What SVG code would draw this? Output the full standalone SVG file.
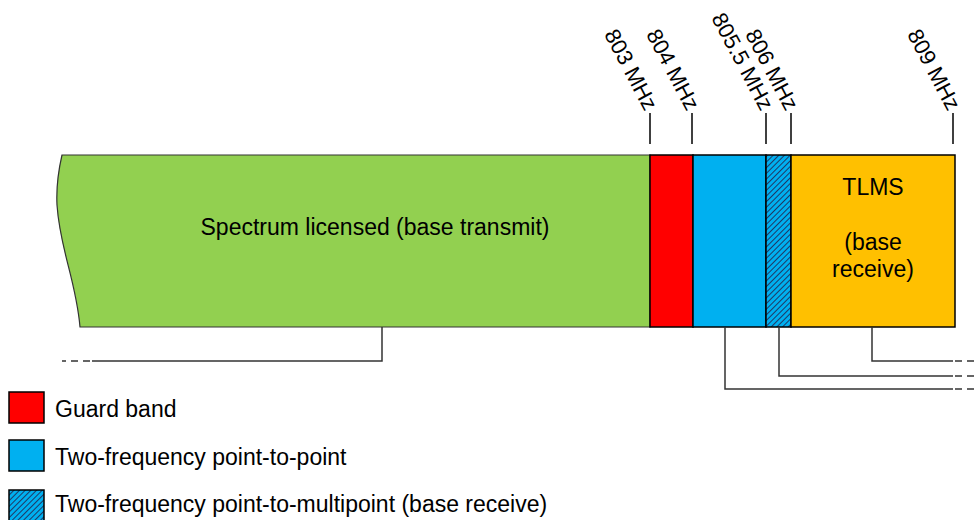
<svg xmlns="http://www.w3.org/2000/svg" width="978" height="520" viewBox="0 0 978 520">
  <style>
    text { font-family: "Liberation Sans", Arial, sans-serif; fill: #000; }
    .lbl { font-size: 23px; }
    .freq { font-size: 22px; }
    .band { stroke: #000; stroke-width: 1.5; }
    .tick { stroke: #000; stroke-width: 1.5; fill: none; }
    .lead { stroke: #333; stroke-width: 1.5; fill: none; }
    .dash { stroke: #333; stroke-width: 1.5; fill: none; stroke-dasharray: 7 5; }
  </style>
  <defs>
    <pattern id="hatch" patternUnits="userSpaceOnUse" width="4" height="4" patternTransform="rotate(45)">
      <rect width="4" height="4" fill="#00B0F0"/>
      <line x1="0" y1="0" x2="0" y2="4" stroke="#1F3864" stroke-width="2"/>
    </pattern>
  </defs>

  <!-- spectrum bands -->
  <g id="band-licensed">
    <path d="M62,155 H650 V327 H80 C76,280 60,250 57,205 C56,185 59,168 62,155 Z" fill="#92D050" stroke="#333" stroke-width="1.2"/>
    <text class="lbl" x="375" y="235" text-anchor="middle">Spectrum licensed (base transmit)</text>
  </g>
  <g id="band-guard">
    <rect class="band" x="650" y="155" width="43" height="172" fill="#FF0000"/>
  </g>
  <g id="band-p2p">
    <rect class="band" x="693" y="155" width="73" height="172" fill="#00B0F0"/>
  </g>
  <g id="band-p2mp">
    <rect class="band" x="766" y="155" width="25" height="172" fill="url(#hatch)"/>
  </g>
  <g id="band-tlms">
    <rect class="band" x="791" y="155" width="164" height="172" fill="#FFC000"/>
    <text class="lbl" x="873" y="195" text-anchor="middle">TLMS</text>
    <text class="lbl" x="873" y="250" text-anchor="middle">(base</text>
    <text class="lbl" x="873" y="277" text-anchor="middle">receive)</text>
  </g>

  <!-- frequency markers -->
  <g id="markers">
    <line class="tick" x1="650" y1="113" x2="650" y2="144"/>
    <line class="tick" x1="692" y1="113" x2="692" y2="144"/>
    <line class="tick" x1="766" y1="113" x2="766" y2="144"/>
    <line class="tick" x1="791" y1="113" x2="791" y2="144"/>
    <line class="tick" x1="953" y1="113" x2="953" y2="144"/>
    <text class="freq" transform="translate(645,112) rotate(62)" text-anchor="end">803 MHz</text>
    <text class="freq" transform="translate(687,112) rotate(62)" text-anchor="end">804 MHz</text>
    <text class="freq" transform="translate(761,112) rotate(62)" text-anchor="end">805.5 MHz</text>
    <text class="freq" transform="translate(786,112) rotate(62)" text-anchor="end">806 MHz</text>
    <text class="freq" transform="translate(948,112) rotate(62)" text-anchor="end">809 MHz</text>
  </g>

  <!-- leader lines -->
  <g id="connectors">
    <polyline class="lead" points="382,327 382,361 92,361"/>
    <line class="dash" x1="90" y1="361" x2="62" y2="361"/>
    <polyline class="lead" points="872,327 872,361 953,361"/>
    <line class="dash" x1="955" y1="361" x2="978" y2="361"/>
    <polyline class="lead" points="779,327 779,376 953,376"/>
    <line class="dash" x1="955" y1="376" x2="978" y2="376"/>
    <polyline class="lead" points="725,327 725,389 953,389"/>
    <line class="dash" x1="955" y1="389" x2="978" y2="389"/>
  </g>

  <!-- legend -->
  <g id="legend-guard">
    <rect class="band" x="9" y="392" width="35" height="31" fill="#FF0000"/>
    <text class="lbl" x="55" y="417">Guard band</text>
  </g>
  <g id="legend-p2p">
    <rect class="band" x="9" y="440" width="35" height="31" fill="#00B0F0"/>
    <text class="lbl" x="55" y="465">Two-frequency point-to-point</text>
  </g>
  <g id="legend-p2mp">
    <rect class="band" x="9" y="490" width="35" height="31" fill="url(#hatch)"/>
    <text class="lbl" x="55" y="512">Two-frequency point-to-multipoint (base receive)</text>
  </g>
</svg>
